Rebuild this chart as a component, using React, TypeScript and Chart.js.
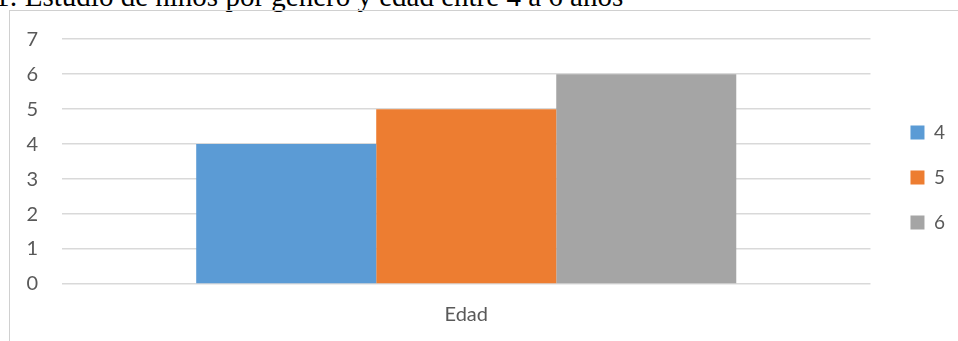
import React, { useEffect, useRef } from "react";
import { Chart, registerables } from "chart.js";

Chart.register(...registerables);

const titleText = "1: Estudio de niños por género y edad entre 4 a 6 años";
const categories = ["Edad"];
const seriesLabels = ["4", "5", "6"];
const seriesValues = [[4], [5], [6]];
const seriesColors = ["#5B9BD5", "#ED7D31", "#A5A5A5"];
const yMin = 0;
const yMax = 7;
const yStep = 1;

const FONT = "Lato, 'Open Sans', sans-serif";
const TEXT = "#595959";
const GRID = "#d9d9d9";

export default function App() {
  const ref = useRef<HTMLCanvasElement | null>(null);

  useEffect(() => {
    if (!ref.current) return;
    const chart = new Chart(ref.current, {
      type: "bar",
      data: {
        labels: categories,
        datasets: seriesLabels.map((label, i) => ({
          label,
          data: seriesValues[i],
          backgroundColor: seriesColors[i],
          borderWidth: 0,
          categoryPercentage: 0.668,
          barPercentage: 1,
        })),
      },
      options: {
        responsive: false,
        animation: false,
        devicePixelRatio: 1,
        layout: { padding: { top: 28, bottom: 14, left: 0, right: 0 } },
        plugins: {
          title: {
            display: true,
            text: "",
            padding: { top: 10, bottom: 0 },
            font: { size: 1 },
          },
          legend: {
            position: "right",
            align: "center",
            labels: {
              boxWidth: 14,
              boxHeight: 14,
              padding: 26,
              color: TEXT,
              font: { family: FONT, size: 19 },
            },
          },
          tooltip: { enabled: false },
        },
        scales: {
          x: {
            grid: { display: false, drawTicks: false },
            border: { display: false },
            ticks: {
              color: TEXT,
              padding: 19,
              font: { family: FONT, size: 20 },
            },
            afterFit: (s: any) => {
              s.height = 43;
            },
          },
          y: {
            min: yMin,
            max: yMax,
            ticks: {
              stepSize: yStep,
              color: TEXT,
              padding: 24,
              font: { family: FONT, size: 20 },
            },
            grid: { color: GRID, lineWidth: 1.5, drawTicks: false },
            border: { display: false },
            afterFit: (s: any) => {
              s.width = 62;
            },
          },
          y2: {
            type: "linear",
            position: "right",
            display: true,
            grid: { display: false, drawTicks: false },
            border: { display: false },
            ticks: { display: false },
            afterFit: (s: any) => {
              s.width = 14;
            },
          },
        },
      } as any,
    });
    return () => chart.destroy();
  }, []);

  return (
    <div
      style={{
        position: "fixed",
        left: 0,
        top: 0,
        width: 958,
        height: 341,
        overflow: "hidden",
        background: "#ffffff",
      }}
    >
      <div
        style={{
          position: "absolute",
          left: -5,
          top: -18,
          fontFamily: "'Liberation Serif', 'Times New Roman', serif",
          fontSize: 29,
          lineHeight: "29px",
          whiteSpace: "nowrap",
          color: "#000",
        }}
      >
        {titleText}
      </div>
      <div
        style={{
          position: "absolute",
          left: 9,
          top: 10,
          width: 1000,
          height: 400,
          borderTop: "1px solid #d0d0d0",
          borderLeft: "1px solid #d0d0d0",
        }}
      />
      <canvas
        ref={ref}
        width={955}
        height={341}
        style={{ position: "absolute", left: 0, top: 0, width: 955, height: 341 }}
      />
    </div>
  );
}
